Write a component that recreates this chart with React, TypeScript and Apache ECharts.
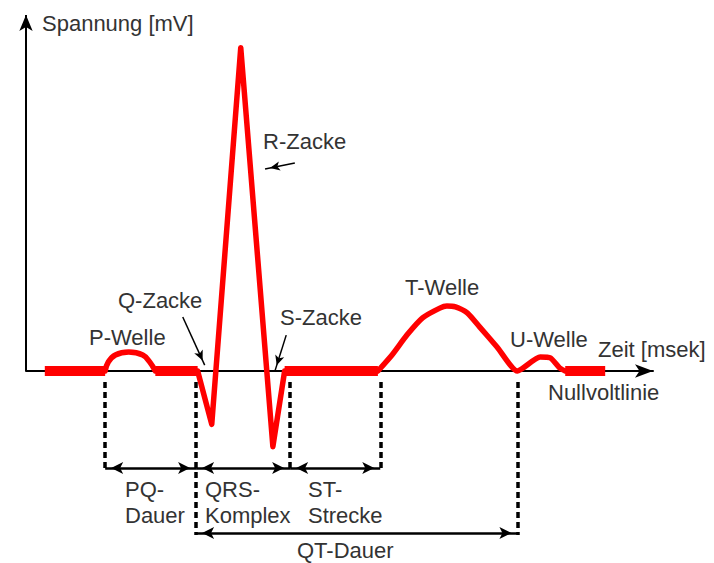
import React, { useEffect, useRef } from "react";
import * as echarts from "echarts";

// ECG waves (time in ms, voltage in mV)
const pWaveTimeMs = [101, 105, 114, 131, 149, 158, 165];
const pWaveMv = [0, 0.03, 0.054, 0.064, 0.054, 0.03, 0];
const qrsTimeMs = [219, 237, 274, 315, 330];
const qrsMv = [0, -0.18, 1.09, -0.255, 0];
const tuWaveTimeMs = [449, 467, 486, 506, 528, 537, 548, 563, 579, 601, 627, 656, 669, 681, 688];
const tuWaveMv = [0, 0.054, 0.121, 0.179, 0.212, 0.219, 0.216, 0.196, 0.148, 0.081, 0, 0.047, 0.044, 0.01, 0];

// thick "Nullvoltlinie" segments [start, end] in ms
const baselineStartMs = [24, 165, 330, 688];
const baselineEndMs = [101, 219, 449, 739];

// interval boundaries (ms) and how far down the dashed guides go (mV)
const boundaryMs = [101, 217, 337, 452, 627];
const boundaryDepthMv = [-0.334, -0.553, -0.334, -0.334, -0.553];
const guideTopMv = -0.037;

// intervals
const intervalStartMs = [101, 217, 337, 217];
const intervalEndMs = [217, 337, 452, 627];
const intervalLevelMv = [-0.327, -0.327, -0.327, -0.546];

// pointer arrows (from -> to) for the wave labels
const pointerFrom = [[343, 0.701], [200, 0.182], [332, 0.121]];
const pointerTo = [[305, 0.681], [228, 0.02], [318, 0.003]];

const axisTimeMax = 800;
const axisVoltMin = -0.6;
const axisVoltMax = 1.2;

const labelTexts = [
  "Spannung [mV]", "R-Zacke", "Q-Zacke", "S-Zacke", "P-Welle", "T-Welle", "U-Welle",
  "Zeit [msek]", "Nullvoltlinie", "PQ-", "Dauer", "QRS-", "Komplex", "ST-", "Strecke", "QT-Dauer",
];
const labelLayout = [
  [42, 23], [263, 141], [118, 300], [280, 317], [89, 337], [405, 287], [510, 339],
  [598, 349], [548, 392], [125, 489], [125, 515], [205, 489], [205, 515], [308, 489], [308, 515], [297, 550],
];

const RED = "#ff0000";
const FONT = '22px "Liberation Sans", Arial, sans-serif';

function markSeries(name: string, data: any[], lineStyle: any) {
  return {
    type: "line",
    name,
    data: [],
    silent: true,
    markLine: {
      silent: true,
      animation: false,
      symbol: ["none", "none"],
      label: { show: false },
      emphasis: { disabled: true },
      lineStyle,
      data,
    },
  };
}

function waveSeries(name: string, times: number[], values: number[], smooth: number | boolean) {
  return {
    type: "line",
    name,
    data: times.map((t, i) => [t, values[i]]),
    showSymbol: false,
    silent: true,
    smooth,
    lineStyle: { color: RED, width: 5.5, join: "round", cap: "round" },
    z: 4,
  };
}

export default function App() {
  const ref = useRef<HTMLDivElement>(null);
  useEffect(() => {
    document.body.style.margin = "0";
    const chart = echarts.init(ref.current!, null, { renderer: "svg" });

    const baselineSeries = baselineStartMs.map((s, i) => ({
      type: "line",
      name: "Nullvoltlinie " + (i + 1),
      data: [[s, 0], [baselineEndMs[i], 0]],
      showSymbol: false,
      silent: true,
      lineStyle: { color: RED, width: 10, cap: "butt" },
      z: 3,
    }));

    const yAxisLine = [[
      { coord: [0, 0] },
      { coord: [0, axisVoltMax], symbol: "arrow", symbolSize: [10, 16] },
    ]];
    const guides = boundaryMs.map((t, i) => [
      { coord: [t, guideTopMv] },
      { coord: [t, boundaryDepthMv[i]] },
    ]);
    const intervals = intervalStartMs.map((s, i) => [
      { coord: [s, intervalLevelMv[i]], symbol: "arrow", symbolSize: [9, 12], symbolOffset: [0, 6] },
      { coord: [intervalEndMs[i], intervalLevelMv[i]], symbol: "arrow", symbolSize: [9, 12], symbolOffset: [0, 6] },
    ]);
    const pointers = pointerFrom.map((f, i) => [
      { coord: f },
      { coord: pointerTo[i], symbol: "arrow", symbolSize: [7, 10], symbolOffset: [0, 5] },
    ]);

    const option: any = {
      animation: false,
      backgroundColor: "#ffffff",
      grid: { left: 26, right: 61, top: 15, bottom: 14 },
      xAxis: {
        type: "value",
        min: 0,
        max: axisTimeMax,
        axisLine: {
          show: true,
          onZero: true,
          symbol: ["none", "arrow"],
          symbolSize: [10, 18],
          lineStyle: { color: "#000", width: 2 },
        },
        axisTick: { show: false },
        axisLabel: { show: false },
        splitLine: { show: false },
      },
      yAxis: {
        type: "value",
        min: axisVoltMin,
        max: axisVoltMax,
        axisLine: { show: false },
        axisTick: { show: false },
        axisLabel: { show: false },
        splitLine: { show: false },
      },
      series: [
        markSeries("Spannungsachse", yAxisLine, { color: "#000", width: 2, type: "solid" }),
        markSeries("Grenzen", guides, { color: "#000", width: 3.5, type: [6, 4] }),
        markSeries("Intervalle", intervals, { color: "#000", width: 2.5, type: "solid" }),
        markSeries("Zeiger", pointers, { color: "#000", width: 1.5, type: "solid" }),
        waveSeries("P-Welle", pWaveTimeMs, pWaveMv, 0.4),
        waveSeries("QRS-Komplex", qrsTimeMs, qrsMv, false),
        waveSeries("T-/U-Welle", tuWaveTimeMs, tuWaveMv, 0.2),
        ...baselineSeries,
      ],
      graphic: labelTexts.map((text, i) => ({
        type: "text",
        x: labelLayout[i][0],
        y: labelLayout[i][1],
        silent: true,
        style: {
          text,
          fill: "#333",
          font: FONT,
          align: "left",
          textAlign: "left",
          verticalAlign: "middle",
          textVerticalAlign: "middle",
        },
      })),
    };
    chart.setOption(option);
    return () => chart.dispose();
  }, []);
  return <div ref={ref} style={{ width: 714, height: 563 }} />;
}
